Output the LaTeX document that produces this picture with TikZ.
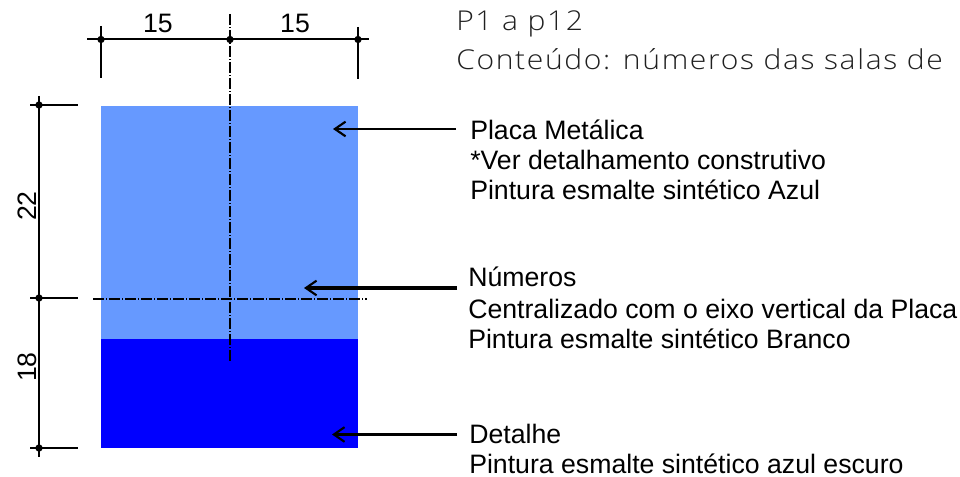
\documentclass[tikz,border=0pt]{standalone}
\usepackage{fontspec}
\setmainfont{Liberation Sans}
\newfontfamily\titlefont[LetterSpace=6,FakeStretch=1.1]{Open Sans Light}
\definecolor{plateblue}{HTML}{6699FF}
\definecolor{darkblue}{HTML}{0000FF}
\definecolor{titlegray}{HTML}{202020}
\newcommand{\labelfs}{\fontsize{20pt}{22.5pt}\selectfont}
\usetikzlibrary{arrows.meta}
\tikzset{
  x=0.75pt,y=-0.75pt,
  dimline/.style={line width=1.5pt,black},
  dimdot/.style={circle,fill=black,inner sep=0pt,minimum size=5.5pt},
  axisline/.style={line width=1.4pt,black,dash pattern=on 8.6pt off 1.2pt on 1pt off 1.2pt},
  leader/.style={line width=1.9pt,black,-{Straight Barb[length=8pt,width=11pt,line width=1.6pt]}},
  note/.style={anchor=north west,align=left,inner sep=0pt,font=\labelfs,text=black},
  dimtext/.style={inner sep=0pt,font=\labelfs,text=black},
  titletext/.style={anchor=base west,inner sep=0pt,font=\titlefont\fontsize{20.5pt}{24pt}\selectfont,text=titlegray}
}
\begin{document}
\begin{tikzpicture}
\useasboundingbox (0,0) rectangle (960,477);
% plate
\fill[plateblue] (101,106) rectangle (358,339);
\fill[darkblue] (101,339) rectangle (358,448);
% axes
\coordinate (vtop) at (230,14);
\coordinate (vbot) at (230,362);
\coordinate (hleft) at (93,299);
\coordinate (hright) at (367,299);
\draw[axisline] (vtop) -- (vbot);
\draw[axisline] (hleft) -- (hright);
% top dimension
\node[dimdot] (tl) at (101,39.5) {};
\node[dimdot] (tc) at (230,39.5) {};
\node[dimdot] (tr) at (358,39.5) {};
\coordinate (tlend) at (87,39.5);
\coordinate (trend) at (369,39.5);
\draw[dimline] (tlend) -- (trend);
\coordinate (tla) at (101,26);
\coordinate (tlb) at (101,78);
\coordinate (tra) at (358,27);
\coordinate (trb) at (358,79);
\draw[dimline] (tla) -- (tlb);
\draw[dimline] (tra) -- (trb);
\node[dimtext] (d15a) at (158,23) {15};
\node[dimtext] (d15b) at (295,23) {15};
% left dimension
\node[dimdot] (lt) at (39,105) {};
\node[dimdot] (lm) at (39,298) {};
\node[dimdot] (lb) at (39,448) {};
\coordinate (ltop) at (39,96);
\coordinate (lbot) at (39,457);
\draw[dimline] (ltop) -- (lbot);
\coordinate (lta) at (30,105);
\coordinate (ltb) at (78,105);
\coordinate (lma) at (30,298.5);
\coordinate (lmb) at (78,298.5);
\coordinate (lba) at (30,448);
\coordinate (lbb) at (78,448);
\draw[dimline] (lta) -- (ltb);
\draw[dimline] (lma) -- (lmb);
\draw[dimline] (lba) -- (lbb);
\node[dimtext,rotate=90] (d22) at (27,206) {22};
\node[dimtext,rotate=90] (d18) at (27,367) {18};
% leaders
\coordinate (a1s) at (456,129);
\coordinate (a1e) at (333,129);
\coordinate (a2s) at (457,288);
\coordinate (a2e) at (304,288);
\coordinate (a3s) at (457,434.5);
\coordinate (a3e) at (332,434.5);
\draw[leader] (a1s) -- (a1e);
\draw[leader,line width=2.3pt] (a2s) -- (a2e);
\draw[leader] (a3s) -- (a3e);
% notes
\node[note] (n1) at (470,120) {Placa Metálica\\*Ver detalhamento construtivo\\Pintura esmalte sintético Azul};
\node[note] (n2) at (468,267) {Números\\[1.5pt]Centralizado com o eixo vertical da Placa\\Pintura esmalte sintético Branco};
\node[note] (n3) at (469,423.5) {Detalhe\\Pintura esmalte sintético azul escuro};
% title
\node[titletext] (t1) at (456,31) {P1 a p12};
\node[titletext] (t2) at (456,70) {Conteúdo: números das salas de};
\end{tikzpicture}
\end{document}
